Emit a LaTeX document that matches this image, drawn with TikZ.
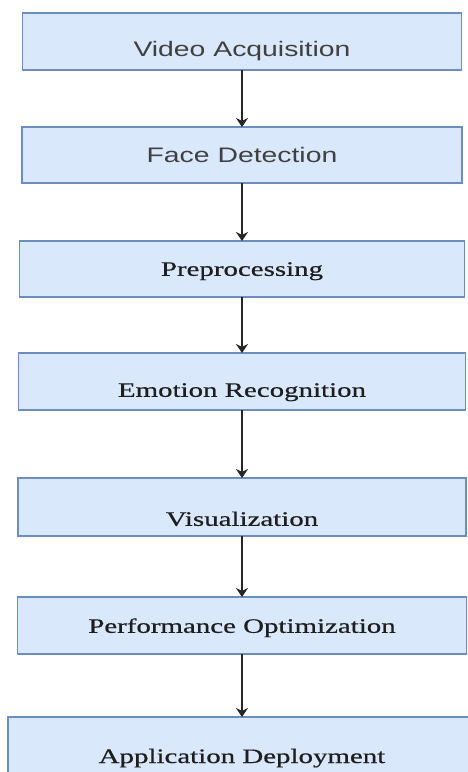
\documentclass[tikz,border=0pt]{standalone}
\usepackage{fontspec}
\newfontfamily\stageserif[FakeStretch=1.41,FakeBold=0.6]{Liberation Serif}
\newfontfamily\stagesans[FakeStretch=1.35]{Liberation Sans}
\usepackage{tikz}
\usetikzlibrary{arrows.meta,positioning}
\definecolor{stagefill}{RGB}{218,232,252}
\definecolor{stageline}{RGB}{108,142,191}
\definecolor{stagetext}{RGB}{30,30,30}
\tikzset{
  stage/.style={draw=stageline, line width=0.7pt, fill=stagefill, inner sep=0pt,
    outer sep=0pt, minimum height=28.5pt, text depth=0pt, text=stagetext,
    font=\stageserif\fontsize{10.25}{12}\selectfont},
  sans/.style={font=\stagesans\fontsize{10.5}{12}\selectfont, text=stagetext!85},
  flow/.style={draw=black!85, line width=0.6pt, -{Stealth[length=4.5pt,width=6pt]}}
}
\begin{document}
\begin{tikzpicture}
  \useasboundingbox (0,0) rectangle (233.5pt,-386pt);
  % text height sets how far the label sits below the middle of its box
  \node[stage, sans, minimum width=219.5pt, text height=15.2pt, anchor=north]
    (acq) at (121pt,-6.5pt) {Video Acquisition};
  \node[stage, sans, minimum width=220pt, minimum height=28pt, text height=7.5pt,
    below=28.5pt of acq] (face) {Face Detection};
  \node[stage, minimum width=222.5pt, minimum height=28pt, text height=6.8pt,
    below=29pt of face] (prep) {Preprocessing};
  \node[stage, minimum width=223.5pt, text height=15.3pt,
    below=28pt of prep] (emo) {Emotion Recognition};
  \node[stage, minimum width=224pt, minimum height=29pt, text height=18.8pt,
    below=34pt of emo] (vis) {Visualization};
  \node[stage, minimum width=224.5pt, text height=7.3pt,
    below=30.5pt of vis] (perf) {Performance Optimization};
  \node[stage, minimum width=234pt, text height=17.5pt,
    below=31.5pt of perf] (deploy) {Application Deployment};

  \draw[flow] (acq) -- (face);
  \draw[flow] (face) -- (prep);
  \draw[flow] (prep) -- (emo);
  \draw[flow] (emo) -- (vis);
  \draw[flow] (vis) -- (perf);
  \draw[flow] (perf) -- (deploy);
\end{tikzpicture}
\end{document}
